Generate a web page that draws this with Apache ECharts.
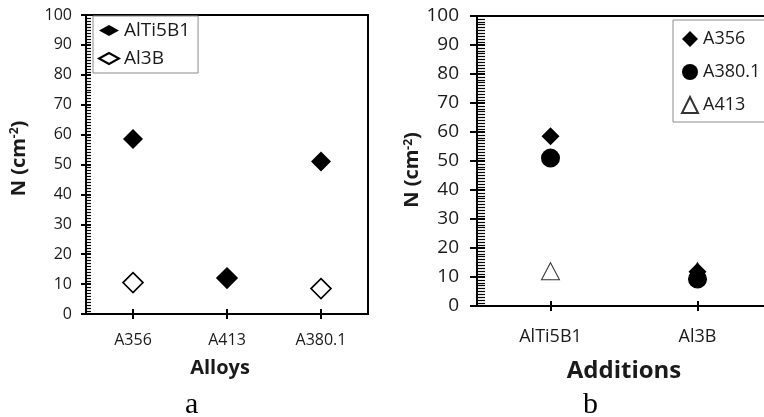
<!DOCTYPE html>
<html><head><meta charset="utf-8">
<script src="https://cdn.jsdelivr.net/npm/echarts@6/dist/echarts.min.js"></script>
<style>html,body{margin:0;padding:0;background:#fff}#c{width:764px;height:417px}</style>
</head><body><div id="c"></div>
<script>
// ---- data ----
const alloys = ['A356', 'A413', 'A380.1'];
const alTi5B1Values = [58.5, 12, 51];
const al3BValues = [10.5, 12, 8.5];

const additions = ['AlTi5B1', 'Al3B'];
const a356Values = [58.5, 11.8];
const a380Values = [51, 9.3];
const a413Values = [12, 12];

const yMin = 0, yMax = 100, yInterval = 10;
const panelLabels = ['a', 'b'];

// ---- chart ----
const FONT = '"Open Sans", "Noto Sans", sans-serif';
const SERIF = '"Liberation Serif", "Times New Roman", serif';
const TXT = '#1a1a1a';
const chart = echarts.init(document.getElementById('c'), null, {renderer: 'canvas'});

function line(w) { return {show: true, lineStyle: {color: '#000', width: w}}; }

function yAxes(grid, fs, margin, nameGap, namePad, tickOut, tickIn) {
  return [
    {gridIndex: grid, type: 'value', min: yMin, max: yMax, interval: yInterval, position: 'left',
      splitLine: {show: false}, axisLine: line(2),
      axisTick: {show: true, inside: false, length: tickOut, lineStyle: {color: '#000', width: 2}},
      axisLabel: {show: true, fontSize: fs, color: TXT, fontFamily: FONT, margin: margin},
      name: 'N (cm{sup|-2})', nameLocation: 'middle', nameGap: nameGap,
      nameTextStyle: {fontFamily: FONT, fontWeight: 'bold', fontSize: 20, color: TXT, padding: namePad,
        rich: {sup: {fontFamily: FONT, fontWeight: 'bold', fontSize: 12, color: TXT, verticalAlign: 'top', lineHeight: 12}}}},
    {gridIndex: grid, type: 'value', min: yMin, max: yMax, interval: yInterval, position: 'left',
      splitLine: {show: false}, axisLine: line(2),
      axisTick: {show: true, inside: true, length: tickIn, lineStyle: {color: '#000', width: 2}},
      minorTick: {show: true, splitNumber: 10, length: tickIn, lineStyle: {color: '#000', width: 1.2}},
      axisLabel: {show: false}}
  ];
}
function xAxes(grid, cats, fs, margin, name, nameFs, nameGap, namePad) {
  return [
    {gridIndex: grid, type: 'category', data: cats, position: 'bottom', boundaryGap: true,
      splitLine: {show: false}, axisLine: line(2),
      axisTick: {show: true, alignWithLabel: true, inside: false, length: 5, lineStyle: {color: '#000', width: 2}},
      axisLabel: {show: true, fontSize: fs, color: TXT, fontFamily: FONT, margin: margin},
      name: name, nameLocation: 'middle', nameGap: nameGap,
      nameTextStyle: {fontFamily: FONT, fontWeight: 'bold', fontSize: nameFs, color: TXT, padding: namePad}},
    {gridIndex: grid, type: 'category', data: cats, position: 'bottom', boundaryGap: true,
      splitLine: {show: false}, axisLine: line(2),
      axisTick: {show: true, alignWithLabel: true, inside: true, length: 5, lineStyle: {color: '#000', width: 2}},
      axisLabel: {show: false}}
  ];
}

const option = {
  backgroundColor: '#fff',
  animation: false,
  grid: [
    {left: 86, top: 15, width: 282, height: 299, containLabel: false, outerBoundsMode: 'none',
      show: true, borderColor: '#000', borderWidth: 2, backgroundColor: 'rgba(0,0,0,0)', z: -1},
    {left: 477, top: 16, width: 294, height: 290, containLabel: false, outerBoundsMode: 'none',
      show: true, borderColor: '#000', borderWidth: 2, backgroundColor: 'rgba(0,0,0,0)', z: -1}
  ],
  xAxis: [].concat(
    xAxes(0, alloys, 16, 18, 'Alloys', 20, 44, [0, 14, 0, 0]),
    xAxes(1, additions, 18, 22, 'Additions', 24, 53, [0, 0, 0, 0])
  ),
  yAxis: [].concat(
    yAxes(0, 16, 14, 57, [0, 0, 0, 12], 5, 5),
    yAxes(1, 19, 18, 50, [0, 18, 0, 0], 7, 8)
  ),
  title: [
    {text: panelLabels[0], left: 185, top: 390, padding: 0, textStyle: {fontFamily: SERIF, fontWeight: 'normal', fontSize: 30, color: '#000'}},
    {text: panelLabels[1], left: 583, top: 390, padding: 0, textStyle: {fontFamily: SERIF, fontWeight: 'normal', fontSize: 30, color: '#000'}}
  ],
  legend: [
    {data: ['AlTi5B1', 'Al3B'], orient: 'vertical', left: 93, top: 16, padding: [5, 8, 5, 5], itemGap: 9,
      itemWidth: 20, itemHeight: 11, backgroundColor: '#fff', borderColor: '#8c8c8c', borderWidth: 1,
      textStyle: {fontFamily: FONT, fontSize: 19, color: TXT}},
    {data: ['A356', 'A380.1', 'A413'], orient: 'vertical', left: 673, top: 20, padding: [10, 40, 8, 8], itemGap: 15,
      itemWidth: 16, itemHeight: 16, backgroundColor: '#fff', borderColor: '#8c8c8c', borderWidth: 1,
      textStyle: {fontFamily: FONT, fontSize: 18, color: TXT}}
  ],
  series: [
    {name: 'AlTi5B1', type: 'scatter', xAxisIndex: 0, yAxisIndex: 0, data: alTi5B1Values, symbol: 'diamond', symbolSize: 20, z: 3,
      itemStyle: {color: '#000', opacity: 1}},
    {name: 'Al3B', type: 'scatter', xAxisIndex: 0, yAxisIndex: 0, data: al3BValues, symbol: 'diamond', symbolSize: 20, z: 2,
      itemStyle: {color: '#fff', borderColor: '#000', borderWidth: 1.6, opacity: 1}},
    {name: 'A356', type: 'scatter', xAxisIndex: 2, yAxisIndex: 2, data: a356Values, symbol: 'diamond', symbolSize: 18, z: 3,
      itemStyle: {color: '#000', opacity: 1}},
    {name: 'A380.1', type: 'scatter', xAxisIndex: 2, yAxisIndex: 2, data: a380Values, symbol: 'circle', symbolSize: 19, z: 4,
      itemStyle: {color: '#000', opacity: 1}},
    {name: 'A413', type: 'scatter', xAxisIndex: 2, yAxisIndex: 2, data: a413Values, symbol: 'triangle', symbolSize: [18, 17], z: 2,
      itemStyle: {color: '#fff', borderColor: '#333', borderWidth: 1, opacity: 1}}
  ]
};
chart.setOption(option);
setTimeout(function () { chart.setOption(option, true); }, 600);
</script>
</body></html>
